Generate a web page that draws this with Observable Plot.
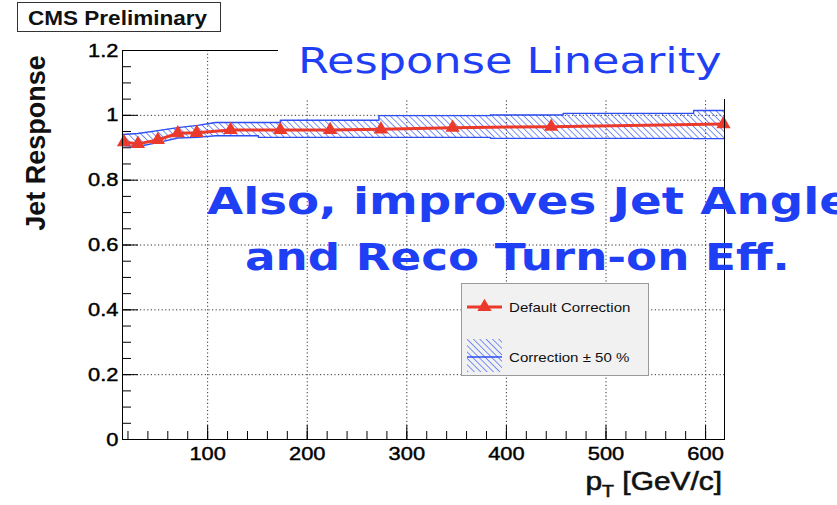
<!DOCTYPE html>
<html>
<head>
<meta charset="utf-8">
<script src="https://cdn.jsdelivr.net/npm/d3@7"></script>
<script src="https://cdn.jsdelivr.net/npm/@observablehq/plot@0.6"></script>
<style>
  html, body { margin: 0; padding: 0; background: #fff; }
  #chart { width: 837px; height: 505px; overflow: hidden; }
</style>
</head>
<body>
<div id="chart"></div>
<script>
// Jet response vs. jet pT after the default correction
const ptBins   = [16, 30, 50, 70, 89, 123, 173, 223, 274, 346, 445, 618];
const response = [0.917, 0.912, 0.924, 0.945, 0.946, 0.955, 0.955, 0.955, 0.957, 0.962, 0.965, 0.973];

// Band obtained by varying the correction by ±50 %
const bandPt = [14.5, 30, 50, 70, 90, 108, 151, 151, 173, 173, 272, 272, 384, 384, 457, 457, 588, 588, 619];
const bandLo = [0.907, 0.904, 0.916, 0.930, 0.932, 0.937, 0.937, 0.932, 0.932, 0.932, 0.932, 0.932, 0.932, 0.929, 0.929, 0.929, 0.929, 0.928, 0.928];
const bandHi = [0.941, 0.944, 0.953, 0.962, 0.969, 0.978, 0.978, 0.978, 0.978, 0.985, 0.985, 0.999, 0.999, 1.001, 1.001, 1.006, 1.006, 1.015, 1.015];

// Axis ticks
const xTicks = [100, 200, 300, 400, 500, 600];
const yTicks = [0, 0.2, 0.4, 0.6, 0.8, 1, 1.2];
const yGridLines = [0.2, 0.4, 0.6, 0.8, 1];
const xMinor = d3.range(20, 620, 20);
const yMinor = d3.range(0, 24).map(i => i * 0.05);

const title = "Response Linearity";
const stamp = "CMS Preliminary";
const noteLines = ["Also, improves Jet Angle", "and Reco Turn-on Eff."];
const legendLabels = ["Default Correction", "Correction \u00b1 50 %"];

const RED = "#eb3a2c";
const BLUE = "#2d4ef2";
const TEXT_BLUE = "#1f3ff4";

const W = 837, H = 505;
const mL = 122, mR = 113, mT = 50, mB = 66;
const plotW = W - mL - mR;
const plotH = H - mT - mB;

const points = ptBins.map((pt, i) => ({pt, r: response[i]}));
const band = bandPt.map((pt, i) => ({pt, lo: bandLo[i], hi: bandHi[i]}));

const grid = {stroke: "#333", strokeOpacity: 1, strokeDasharray: "1.2,2.4", strokeWidth: 1};

const chart = Plot.plot({
  width: W,
  height: H,
  marginLeft: mL, marginRight: mR, marginTop: mT, marginBottom: mB,
  style: {fontFamily: "'Liberation Sans', Arial, sans-serif", fontSize: "19px", color: "#000", background: "#fff", overflow: "visible"},
  x: {type: "linear", domain: [14.5, 619]},
  y: {type: "linear", domain: [0, 1.2]},
  marks: [
    Plot.gridX(xTicks, grid),
    Plot.gridY(yGridLines, grid),
    Plot.areaY(band, {x: "pt", y1: "lo", y2: "hi", fill: "url(#hatch)"}),
    Plot.line(band, {x: "pt", y: "hi", stroke: BLUE, strokeWidth: 1.4}),
    Plot.line(band, {x: "pt", y: "lo", stroke: BLUE, strokeWidth: 1.4}),
    Plot.line(points, {x: "pt", y: "r", stroke: RED, strokeWidth: 3}),
    Plot.dot(points, {x: "pt", y: "r", symbol: "triangle", r: 5.3, fill: RED}),
    Plot.tickY(yMinor, {y: d => d, insetRight: plotW - 9, stroke: "#000"}),
    Plot.tickY(yTicks, {y: d => d, insetRight: plotW - 16, stroke: "#000"}),
    Plot.tickX(xMinor, {x: d => d, insetTop: plotH - 8, stroke: "#000"}),
    Plot.tickX(xTicks, {x: d => d, insetTop: plotH - 14, stroke: "#000"}),
    Plot.frame({stroke: "#000", strokeWidth: 1}),
    Plot.axisY(yTicks, {tickSize: 0, tickPadding: 4, tickFormat: d => String(d), label: null, fontSize: 19}),
    Plot.axisX(xTicks, {tickSize: 0, tickPadding: 7, tickFormat: d => String(d), label: null, fontSize: 19})
  ]
});

document.getElementById("chart").appendChild(chart);

const svg = d3.select(chart);
svg.insert("defs", ":first-child").html(
  `<pattern id="hatch" patternUnits="userSpaceOnUse" width="4.5" height="4.5" patternTransform="rotate(-45)">
     <line x1="0" y1="0" x2="0" y2="4.5" stroke="#4466f4" stroke-width="1.4"/>
   </pattern>`
);

// Tick labels are drawn slightly wide and heavy: stretch each one about its own anchor
svg.selectAll("g[aria-label='y-axis tick label'] text, g[aria-label='x-axis tick label'] text")
  .each(function() {
    const t = this.getAttribute("transform") || "";
    const x = +(this.getAttribute("x") || 0);
    this.setAttribute("transform", `${t} translate(${x},0) scale(1.15,1)`);
    this.setAttribute("x", 0);
  })
  .attr("stroke", "#000").attr("stroke-width", 0.45);

const g = svg.append("g").attr("class", "annotations").attr("text-anchor", "start");

// Title block
g.append("rect").attr("x", 278).attr("y", 0).attr("width", W - 278).attr("height", 99).attr("fill", "#fff");
g.append("text")
  .attr("transform", "translate(298,73) scale(1.24,1)")
  .attr("font-family", "'DejaVu Sans', sans-serif").attr("font-size", 36)
  .attr("fill", TEXT_BLUE).text(title);

// Preliminary stamp
g.append("rect").attr("x", 17.5).attr("y", 2.5).attr("width", 203).attr("height", 29)
  .attr("fill", "#fff").attr("stroke", "#333").attr("stroke-width", 1);
g.append("text")
  .attr("transform", "translate(28,25) scale(1.1,1)")
  .attr("font-family", "'Liberation Sans', Arial, sans-serif").attr("font-weight", "bold").attr("font-size", 20.5)
  .attr("fill", "#111").text(stamp);

// Note (the first line runs past the right edge of the page)
const noteX = [207, 245], noteY = [214, 270], noteStretch = [1.23, 1.19];
noteLines.forEach((t, i) => {
  g.append("text")
    .attr("transform", `translate(${noteX[i]},${noteY[i]}) scale(${noteStretch[i]},1)`)
    .attr("font-family", "'DejaVu Sans', sans-serif").attr("font-weight", "bold").attr("font-size", 38)
    .attr("fill", TEXT_BLUE).text(t);
});

// Axis titles
g.append("text")
  .attr("transform", "translate(45,143) rotate(-90)")
  .attr("text-anchor", "middle")
  .attr("font-family", "'Liberation Sans', Arial, sans-serif").attr("font-weight", "bold").attr("font-size", 27)
  .attr("fill", "#111").text("Jet Response");

const xt = g.append("text")
  .attr("transform", "translate(722,490) scale(1.15,1)")
  .attr("text-anchor", "end")
  .attr("font-family", "'Liberation Sans', Arial, sans-serif").attr("font-size", 26)
  .attr("fill", "#111").attr("stroke", "#111").attr("stroke-width", 0.6);
xt.append("tspan").text("p");
xt.append("tspan").attr("dy", 7).attr("font-size", 17).text("T");
xt.append("tspan").attr("dy", -7).text(" [GeV/c]");

// Legend
const lg = g.append("g");
lg.append("rect").attr("x", 461.5).attr("y", 283.5).attr("width", 187).attr("height", 92)
  .attr("fill", "#f1f1f1").attr("stroke", "#9a9a9a").attr("stroke-width", 1);
lg.append("line").attr("x1", 467).attr("x2", 502).attr("y1", 307).attr("y2", 307)
  .attr("stroke", RED).attr("stroke-width", 3);
lg.append("path").attr("transform", "translate(484.5,307)")
  .attr("d", d3.symbol(d3.symbolTriangle, Math.PI * 5.3 * 5.3)()).attr("fill", RED);
lg.append("rect").attr("x", 467).attr("y", 339).attr("width", 35).attr("height", 33).attr("fill", "url(#hatch)");
lg.append("line").attr("x1", 467).attr("x2", 502).attr("y1", 357).attr("y2", 357)
  .attr("stroke", BLUE).attr("stroke-width", 1.4);
const legendY = [311.5, 361.5];
legendLabels.forEach((t, i) => {
  lg.append("text")
    .attr("transform", `translate(509,${legendY[i]}) scale(1.16,1)`)
    .attr("font-family", "'Liberation Sans', Arial, sans-serif").attr("font-size", 13)
    .attr("fill", "#111").text(t);
});
</script>
</body>
</html>
